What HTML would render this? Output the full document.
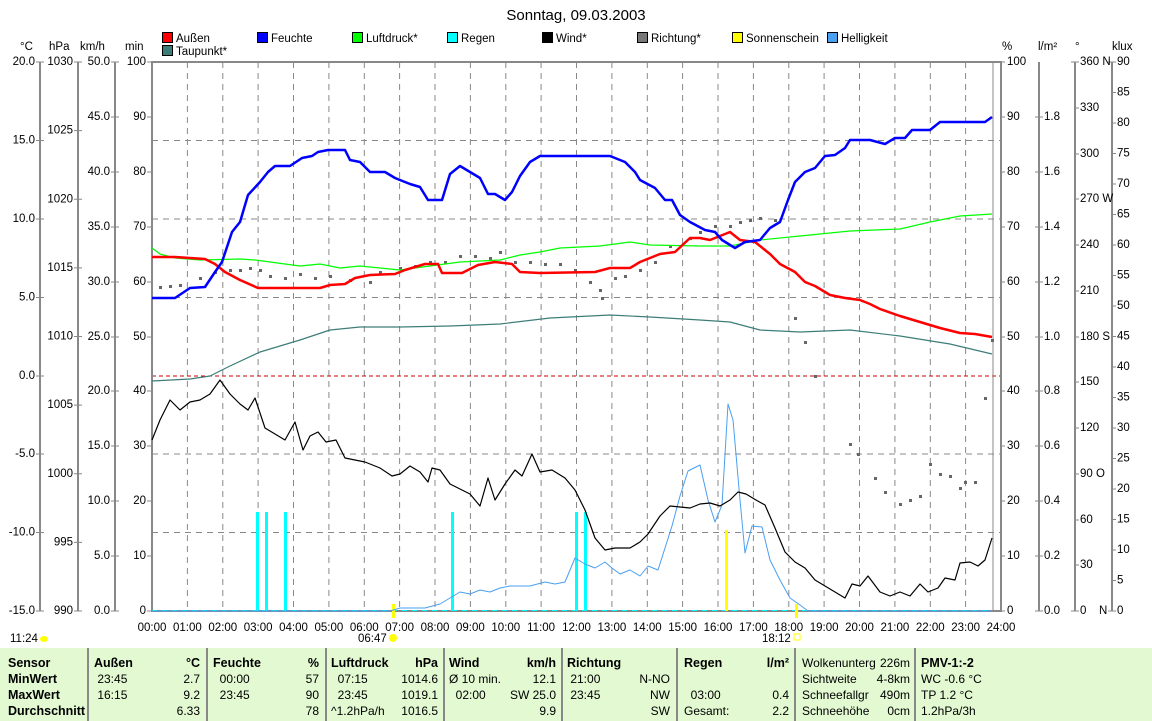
<!DOCTYPE html>
<html><head><meta charset="utf-8"><style>
body{margin:0;background:#fff;width:1152px;height:721px;overflow:hidden;font-family:"Liberation Sans",sans-serif}
svg{position:absolute;left:0;top:0}
text{font-family:"Liberation Sans",sans-serif;font-size:11.5px;fill:#000}
.tbl{position:absolute;left:0;top:648px;width:1152px;height:73px;background:#e2f9d2;font-size:12px}
.c{position:absolute;top:0;height:73px;border-right:2px solid #888;box-sizing:border-box}
.r{position:absolute;white-space:nowrap}
b{font-weight:bold;font-size:12.5px}
</style></head><body>
<svg width="1152" height="648" viewBox="0 0 1152 648">
<text x="576" y="20" text-anchor="middle" style="font-size:15px">Sonntag, 09.03.2003</text>
<g stroke="#000" stroke-width="1">
<rect x="162.5" y="32.5" width="10" height="10" fill="#f00"/>
<rect x="257.5" y="32.5" width="10" height="10" fill="#00f"/>
<rect x="352.5" y="32.5" width="10" height="10" fill="#0f0"/>
<rect x="447.5" y="32.5" width="10" height="10" fill="#0ff"/>
<rect x="542.5" y="32.5" width="10" height="10" fill="#000"/>
<rect x="637.5" y="32.5" width="10" height="10" fill="#777"/>
<rect x="732.5" y="32.5" width="10" height="10" fill="#ff0"/>
<rect x="827.5" y="32.5" width="10" height="10" fill="#4a9ff0"/>
<rect x="162.5" y="45.5" width="10" height="10" fill="#3d7d78"/>
</g>
<g>
<text x="176" y="42">Außen</text><text x="271" y="42">Feuchte</text><text x="366" y="42">Luftdruck*</text>
<text x="461" y="42">Regen</text><text x="556" y="42">Wind*</text><text x="651" y="42">Richtung*</text>
<text x="746" y="42">Sonnenschein</text><text x="841" y="42">Helligkeit</text><text x="176" y="55">Taupunkt*</text>
</g>
<text x="20" y="50">°C</text><text x="49" y="50">hPa</text><text x="80" y="50">km/h</text><text x="125" y="50">min</text>
<text x="1002" y="50">%</text><text x="1038" y="50">l/m²</text><text x="1075" y="50">°</text><text x="1112" y="50">klux</text>
<g stroke="#888" stroke-width="1" stroke-dasharray="6,5">
<path d="M187.4 62V611M222.8 62V611M258.1 62V611M293.5 62V611M328.9 62V611M364.3 62V611M399.6 62V611M435 62V611M470.4 62V611M505.8 62V611M541.1 62V611M576.5 62V611M611.9 62V611M647.3 62V611M682.6 62V611M718 62V611M753.4 62V611M788.8 62V611M824.1 62V611M859.5 62V611M894.9 62V611M930.3 62V611M965.6 62V611"/>
<path d="M152 140.5H1000M152 219H1000M152 297.5H1000M152 454H1000M152 532.5H1000"/>
</g>
<path d="M152 376H1000" stroke="#c00" stroke-dasharray="4,3"/>
<path d="M993 62V611" stroke="#888"/>
<rect x="152" y="62" width="849" height="549" fill="none" stroke="#888" stroke-width="2"/>
<g stroke="#888" stroke-width="2">
<path d="M40 62V611M78 62V611M115 62V611"/>
<path d="M1039 62V611M1075 62V611M1112 62V611"/>
</g>
<g stroke="#888" stroke-width="1">
<path d="M36 62h8M36 140.5h8M36 219h8M36 297.5h8M36 376h8M36 454h8M36 532.5h8M36 611h8"/>
<path d="M74 62h8M74 130.6h8M74 199.3h8M74 267.9h8M74 336.5h8M74 405.1h8M74 473.8h8M74 542.4h8M74 611h8"/>
<path d="M111 62h8M111 117h8M111 172h8M111 227h8M111 282h8M111 337h8M111 391h8M111 446h8M111 501h8M111 556h8M111 611h8"/>
<path d="M147 62h5M147 117h5M147 172h5M147 227h5M147 282h5M147 337h5M147 391h5M147 446h5M147 501h5M147 556h5M147 611h5"/>
<path d="M1001 62h4M1001 117h4M1001 172h4M1001 227h4M1001 282h4M1001 337h4M1001 391h4M1001 446h4M1001 501h4M1001 556h4M1001 611h4"/>
<path d="M1035 117h8M1035 172h8M1035 227h8M1035 282h8M1035 337h8M1035 391h8M1035 446h8M1035 501h8M1035 556h8M1035 611h8"/>
<path d="M1071 62h8M1075 108h4M1075 154h4M1075 199h4M1075 245h4M1075 291h4M1075 337h4M1075 382h4M1075 428h4M1075 474h4M1075 520h4M1075 565h4M1071 611h8"/>
<path d="M1108 62h8M1112 92.5h4M1112 123h4M1112 153.5h4M1112 184h4M1112 214.5h4M1112 245h4M1112 275.5h4M1112 306h4M1112 336.5h4M1112 367h4M1112 397.5h4M1112 428h4M1112 458.5h4M1112 489h4M1112 519.5h4M1112 550h4M1112 580.5h4M1108 611h8"/>
</g>
<g text-anchor="end" dominant-baseline="central">
<text x="35" y="62">20.0</text><text x="35" y="140.5">15.0</text><text x="35" y="219">10.0</text><text x="35" y="297.5">5.0</text><text x="35" y="376">0.0</text><text x="35" y="454">-5.0</text><text x="35" y="532.5">-10.0</text><text x="35" y="611">-15.0</text>
<text x="73" y="62">1030</text><text x="73" y="130.6">1025</text><text x="73" y="199.3">1020</text><text x="73" y="267.9">1015</text><text x="73" y="336.5">1010</text><text x="73" y="405.1">1005</text><text x="73" y="473.8">1000</text><text x="73" y="542.4">995</text><text x="73" y="611">990</text>
<text x="110" y="62">50.0</text><text x="110" y="117">45.0</text><text x="110" y="172">40.0</text><text x="110" y="227">35.0</text><text x="110" y="282">30.0</text><text x="110" y="337">25.0</text><text x="110" y="391">20.0</text><text x="110" y="446">15.0</text><text x="110" y="501">10.0</text><text x="110" y="556">5.0</text><text x="110" y="611">0.0</text>
<text x="146" y="62">100</text><text x="146" y="117">90</text><text x="146" y="172">80</text><text x="146" y="227">70</text><text x="146" y="282">60</text><text x="146" y="337">50</text><text x="146" y="391">40</text><text x="146" y="446">30</text><text x="146" y="501">20</text><text x="146" y="556">10</text><text x="146" y="611">0</text>
</g>
<g dominant-baseline="central">
<text x="1007" y="62">100</text><text x="1007" y="117">90</text><text x="1007" y="172">80</text><text x="1007" y="227">70</text><text x="1007" y="282">60</text><text x="1007" y="337">50</text><text x="1007" y="391">40</text><text x="1007" y="446">30</text><text x="1007" y="501">20</text><text x="1007" y="556">10</text><text x="1007" y="611">0</text>
<text x="1044" y="117">1.8</text><text x="1044" y="172">1.6</text><text x="1044" y="227">1.4</text><text x="1044" y="282">1.2</text><text x="1044" y="337">1.0</text><text x="1044" y="391">0.8</text><text x="1044" y="446">0.6</text><text x="1044" y="501">0.4</text><text x="1044" y="556">0.2</text><text x="1044" y="611">0.0</text>
<text x="1080" y="62">360 N</text><text x="1080" y="108">330</text><text x="1080" y="154">300</text><text x="1080" y="199">270 W</text><text x="1080" y="245">240</text><text x="1080" y="291">210</text><text x="1080" y="337">180 S</text><text x="1080" y="382">150</text><text x="1080" y="428">120</text><text x="1080" y="474">90 O</text><text x="1080" y="520">60</text><text x="1080" y="565">30</text><text x="1080" y="611">0</text><text x="1099" y="611">N</text>
<text x="1117" y="62">90</text><text x="1117" y="92.5">85</text><text x="1117" y="123">80</text><text x="1117" y="153.5">75</text><text x="1117" y="184">70</text><text x="1117" y="214.5">65</text><text x="1117" y="245">60</text><text x="1117" y="275.5">55</text><text x="1117" y="306">50</text><text x="1117" y="336.5">45</text><text x="1117" y="367">40</text><text x="1117" y="397.5">35</text><text x="1117" y="428">30</text><text x="1117" y="458.5">25</text><text x="1117" y="489">20</text><text x="1117" y="519.5">15</text><text x="1117" y="550">10</text><text x="1117" y="580.5">5</text><text x="1117" y="611">0</text>
</g>
<g text-anchor="middle">
<text x="152" y="631">00:00</text><text x="187.4" y="631">01:00</text><text x="222.8" y="631">02:00</text><text x="258.1" y="631">03:00</text><text x="293.5" y="631">04:00</text><text x="328.9" y="631">05:00</text><text x="364.3" y="631">06:00</text><text x="399.6" y="631">07:00</text><text x="435" y="631">08:00</text><text x="470.4" y="631">09:00</text><text x="505.8" y="631">10:00</text><text x="541.1" y="631">11:00</text><text x="576.5" y="631">12:00</text><text x="611.9" y="631">13:00</text><text x="647.3" y="631">14:00</text><text x="682.6" y="631">15:00</text><text x="718" y="631">16:00</text><text x="753.4" y="631">17:00</text><text x="788.8" y="631">18:00</text><text x="824.1" y="631">19:00</text><text x="859.5" y="631">20:00</text><text x="894.9" y="631">21:00</text><text x="930.3" y="631">22:00</text><text x="965.6" y="631">23:00</text><text x="1001" y="631">24:00</text>
</g>
<text x="10" y="642">11:24</text><ellipse cx="44" cy="639" rx="4" ry="3" fill="#ff0"/>
<text x="358" y="642">06:47</text><circle cx="393" cy="638" r="4" fill="#ff0"/>
<text x="762" y="642">18:12</text><rect x="794" y="634" width="6" height="6" fill="none" stroke="#ff0"/>
<g fill="#0ff">
<rect x="256" y="512" width="3" height="99"/><rect x="265" y="512" width="3" height="99"/><rect x="284" y="512" width="3" height="99"/><rect x="451" y="512" width="3" height="99"/><rect x="575" y="512" width="3" height="99"/><rect x="584" y="512" width="3" height="99"/>
</g>
<path d="M152 610.5H992" stroke="#0ff" stroke-dasharray="5,5"/>
<g fill="#ff0"><rect x="725" y="530" width="3" height="81"/><rect x="392" y="604" width="3" height="14"/><rect x="795" y="604" width="3" height="14"/></g>
<g fill="#666">
<rect x="159" y="286" width="3" height="3"/><rect x="169" y="285" width="3" height="3"/><rect x="179" y="284" width="3" height="3"/><rect x="199" y="277" width="3" height="3"/><rect x="214" y="271" width="3" height="3"/><rect x="229" y="269" width="3" height="3"/><rect x="239" y="269" width="3" height="3"/><rect x="249" y="267" width="3" height="3"/><rect x="259" y="269" width="3" height="3"/><rect x="269" y="275" width="3" height="3"/><rect x="284" y="277" width="3" height="3"/><rect x="299" y="273" width="3" height="3"/><rect x="314" y="277" width="3" height="3"/><rect x="329" y="275" width="3" height="3"/><rect x="349" y="279" width="3" height="3"/><rect x="369" y="281" width="3" height="3"/><rect x="379" y="271" width="3" height="3"/><rect x="399" y="267" width="3" height="3"/><rect x="414" y="265" width="3" height="3"/><rect x="429" y="261" width="3" height="3"/><rect x="444" y="261" width="3" height="3"/><rect x="459" y="255" width="3" height="3"/><rect x="474" y="255" width="3" height="3"/><rect x="489" y="257" width="3" height="3"/><rect x="499" y="251" width="3" height="3"/><rect x="514" y="261" width="3" height="3"/><rect x="529" y="261" width="3" height="3"/><rect x="544" y="263" width="3" height="3"/><rect x="559" y="263" width="3" height="3"/><rect x="574" y="269" width="3" height="3"/><rect x="589" y="281" width="3" height="3"/><rect x="599" y="289" width="3" height="3"/><rect x="601" y="297" width="3" height="3"/><rect x="614" y="277" width="3" height="3"/><rect x="624" y="275" width="3" height="3"/><rect x="639" y="269" width="3" height="3"/><rect x="654" y="261" width="3" height="3"/><rect x="669" y="245" width="3" height="3"/><rect x="689" y="237" width="3" height="3"/><rect x="699" y="231" width="3" height="3"/><rect x="714" y="225" width="3" height="3"/><rect x="729" y="225" width="3" height="3"/><rect x="739" y="221" width="3" height="3"/><rect x="749" y="219" width="3" height="3"/><rect x="759" y="217" width="3" height="3"/><rect x="774" y="219" width="3" height="3"/><rect x="794" y="317" width="3" height="3"/><rect x="804" y="341" width="3" height="3"/><rect x="814" y="375" width="3" height="3"/><rect x="849" y="443" width="3" height="3"/><rect x="857" y="453" width="3" height="3"/><rect x="874" y="477" width="3" height="3"/><rect x="884" y="491" width="3" height="3"/><rect x="899" y="503" width="3" height="3"/><rect x="909" y="499" width="3" height="3"/><rect x="919" y="495" width="3" height="3"/><rect x="929" y="463" width="3" height="3"/><rect x="939" y="473" width="3" height="3"/><rect x="949" y="475" width="3" height="3"/><rect x="959" y="487" width="3" height="3"/><rect x="964" y="481" width="3" height="3"/><rect x="974" y="481" width="3" height="3"/><rect x="984" y="397" width="3" height="3"/><rect x="991" y="339" width="3" height="3"/>
</g>
<g fill="none" stroke-linejoin="round">
<polyline stroke="#4a9ff0" stroke-width="1" points="152,611 390,611 400,608 425,608 440,604 450,598 460,592 470,594 480,590 490,592 500,588 510,586 530,586 545,582 555,584 565,582 575,558 585,564 595,568 605,562 612,568 620,574 630,570 640,576 648,566 658,570 665,548 672,526 680,496 688,471 700,465 708,500 715,522 722,505 728,404 733,420 740,500 745,553 752,526 762,527 770,560 780,580 790,598 800,605 808,611 992,611"/>
<polyline stroke="#000" stroke-width="1.2" points="152,440 160,420 170,400 180,410 190,402 200,400 210,394 220,380 230,394 240,404 248,410 255,398 265,428 275,434 285,440 295,422 303,450 310,436 318,432 326,442 336,440 345,458 365,462 380,468 392,476 400,474 410,466 420,472 428,482 432,468 440,470 450,484 462,490 470,494 480,506 488,478 495,500 505,484 515,470 522,476 532,454 540,472 552,470 565,478 575,490 585,510 595,538 605,550 615,548 630,548 640,542 648,534 660,516 670,506 680,507 690,508 700,504 710,503 720,506 730,500 738,492 746,494 756,500 765,505 775,528 785,552 795,562 805,568 815,580 825,586 835,592 845,598 852,584 860,586 868,576 880,592 890,596 900,592 910,596 920,584 928,592 938,588 945,578 955,580 960,563 970,562 978,566 985,560 992,538"/>
<polyline stroke="#3d7d78" stroke-width="1.2" points="152,381 190,379 210,376 230,366 260,352 280,346 300,340 330,330 360,327 400,327 450,326 500,324 550,318 610,315 650,317 700,320 730,322 760,330 800,332 850,330 900,336 950,344 992,354"/>
<polyline stroke="#0f0" stroke-width="1.2" points="152,248 160,254 175,258 200,260 240,259 255,260 270,262 300,266 320,264 340,268 360,266 380,268 400,270 430,266 460,262 500,260 520,255 540,252 560,248 600,246 630,242 650,245 700,246 730,246 760,240 800,236 850,231 900,229 930,222 960,216 992,214"/>
<polyline stroke="#f00" stroke-width="2.5" points="152,257 175,257 205,259 215,264 225,272 240,280 258,288 320,288 330,285 345,284 355,278 370,275 395,274 405,270 425,264 438,264 442,273 462,273 478,265 495,262 512,264 520,272 540,273 595,272 610,268 630,268 640,262 660,254 675,252 690,238 700,238 710,240 720,236 730,232 740,240 755,242 770,254 780,264 795,272 805,282 815,286 830,295 845,298 860,300 870,304 880,309 900,316 920,322 940,328 960,333 975,334 992,337"/>
<polyline stroke="#00f" stroke-width="2.5" points="152,298 175,298 190,288 205,287 215,272 222,262 232,232 240,222 248,195 260,182 268,172 275,166 290,166 302,158 312,156 318,152 328,150 345,150 350,160 360,162 370,172 385,172 395,178 410,184 420,187 428,200 442,200 450,174 460,166 470,172 480,178 488,194 495,194 505,200 512,192 520,176 530,162 540,156 550,156 610,156 625,162 635,172 640,180 655,188 665,200 672,200 680,215 690,222 705,230 715,232 722,240 735,248 745,242 760,240 770,228 780,222 788,200 795,182 805,172 815,168 825,156 835,155 845,148 850,140 870,140 885,144 895,138 905,138 912,130 930,130 940,122 985,122 992,117"/>
</g>
</svg>
<div class="tbl">
<div class="c" style="left:0;width:89px"></div>
<div class="c" style="left:89px;width:119px"></div>
<div class="c" style="left:208px;width:119px"></div>
<div class="c" style="left:327px;width:118px"></div>
<div class="c" style="left:445px;width:118px"></div>
<div class="c" style="left:563px;width:115px"></div>
<div class="c" style="left:678px;width:118px"></div>
<div class="c" style="left:796px;width:120px"></div>
<div class="r" style="left:8px;top:7px;line-height:16px"><b>Sensor<br>MinWert<br>MaxWert<br>Durchschnitt</b></div>
<div class="r" style="left:94px;top:7px;line-height:16px"><b>Außen</b><br>&nbsp;23:45<br>&nbsp;16:15</div>
<div class="r" style="left:150px;top:7px;width:50px;text-align:right;line-height:16px"><b>°C</b><br>2.7<br>9.2<br>6.33</div>
<div class="r" style="left:213px;top:7px;line-height:16px"><b>Feuchte</b><br>&nbsp;&nbsp;00:00<br>&nbsp;&nbsp;23:45</div>
<div class="r" style="left:270px;top:7px;width:49px;text-align:right;line-height:16px"><b>%</b><br>57<br>90<br>78</div>
<div class="r" style="left:331px;top:7px;line-height:16px"><b>Luftdruck</b><br>&nbsp;&nbsp;07:15<br>&nbsp;&nbsp;23:45<br>^1.2hPa/h</div>
<div class="r" style="left:380px;top:7px;width:58px;text-align:right;line-height:16px"><b>hPa</b><br>1014.6<br>1019.1<br>1016.5</div>
<div class="r" style="left:449px;top:7px;line-height:16px"><b>Wind</b><br>Ø 10 min.<br>&nbsp;&nbsp;02:00</div>
<div class="r" style="left:490px;top:7px;width:66px;text-align:right;line-height:16px"><b>km/h</b><br>12.1<br>SW 25.0<br>9.9</div>
<div class="r" style="left:567px;top:7px;line-height:16px"><b>Richtung</b><br>&nbsp;21:00<br>&nbsp;23:45</div>
<div class="r" style="left:620px;top:7px;width:50px;text-align:right;line-height:16px"><br>N-NO<br>NW<br>SW</div>
<div class="r" style="left:684px;top:7px;line-height:16px"><b>Regen</b><br><br>&nbsp;&nbsp;03:00<br>Gesamt:</div>
<div class="r" style="left:740px;top:7px;width:49px;text-align:right;line-height:16px"><b>l/m²</b><br><br>0.4<br>2.2</div>
<div class="r" style="left:802px;top:7px;line-height:16px">Wolkenunterg<br>Sichtweite<br>Schneefallgr<br>Schneehöhe</div>
<div class="r" style="left:860px;top:7px;width:50px;text-align:right;line-height:16px">226m<br>4-8km<br>490m<br>0cm</div>
<div class="r" style="left:921px;top:7px;line-height:16px"><b>PMV-1:-2</b><br>WC -0.6 °C<br>TP 1.2 °C<br>1.2hPa/3h</div>
</div>
</body></html>
